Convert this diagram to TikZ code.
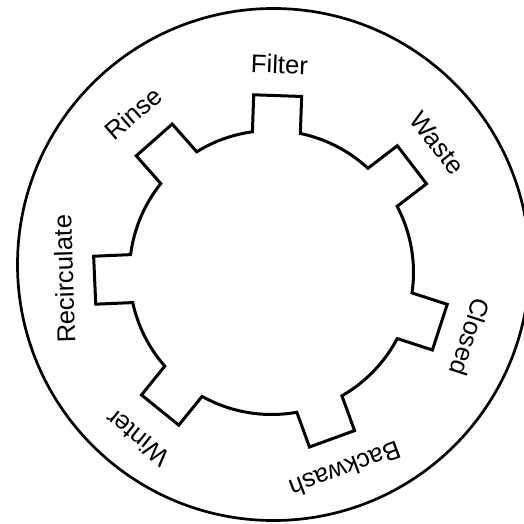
\documentclass[tikz,border=0pt]{standalone}
\usepackage{fontspec}
\setmainfont{Liberation Sans}
\begin{document}
\begin{tikzpicture}[x=0.5pt,y=0.5pt,every node/.style={font=\fontsize{12.8}{15}\selectfont,inner sep=0pt}]
\useasboundingbox (-271.5,-251.5) rectangle (252.5,272.5);
\draw[line width=1.35pt] (2,8) circle[radius=256];
% gear with one tooth per valve position
\draw[line width=1.5pt] (78.27:142)
  \foreach \a/\b in {88/131.5,131.5/182.5,182.5/231,231/290,290/342,342/397.5,397.5/448}
  { -- (\a-7.72:178.6) -- (\a+7.72:178.6) -- (\a+9.73:142)
    arc[start angle=\a+9.73,end angle=\b-9.73,radius=142] } -- cycle;
% position labels
\foreach \n/\t/\a/\r in {filter/Filter/87.8/208.5,rinse/Rinse/131/211,waste/Waste/38/210,
  recirc/Recirculate/181.8/207.5,closed/Closed/-18/209,backwash/Backwash/-69.5/210,winter/Winter/231/213}
  \node[rotate=\a-90] (l-\n) at (\a:\r) {\t};
\end{tikzpicture}
\end{document}
